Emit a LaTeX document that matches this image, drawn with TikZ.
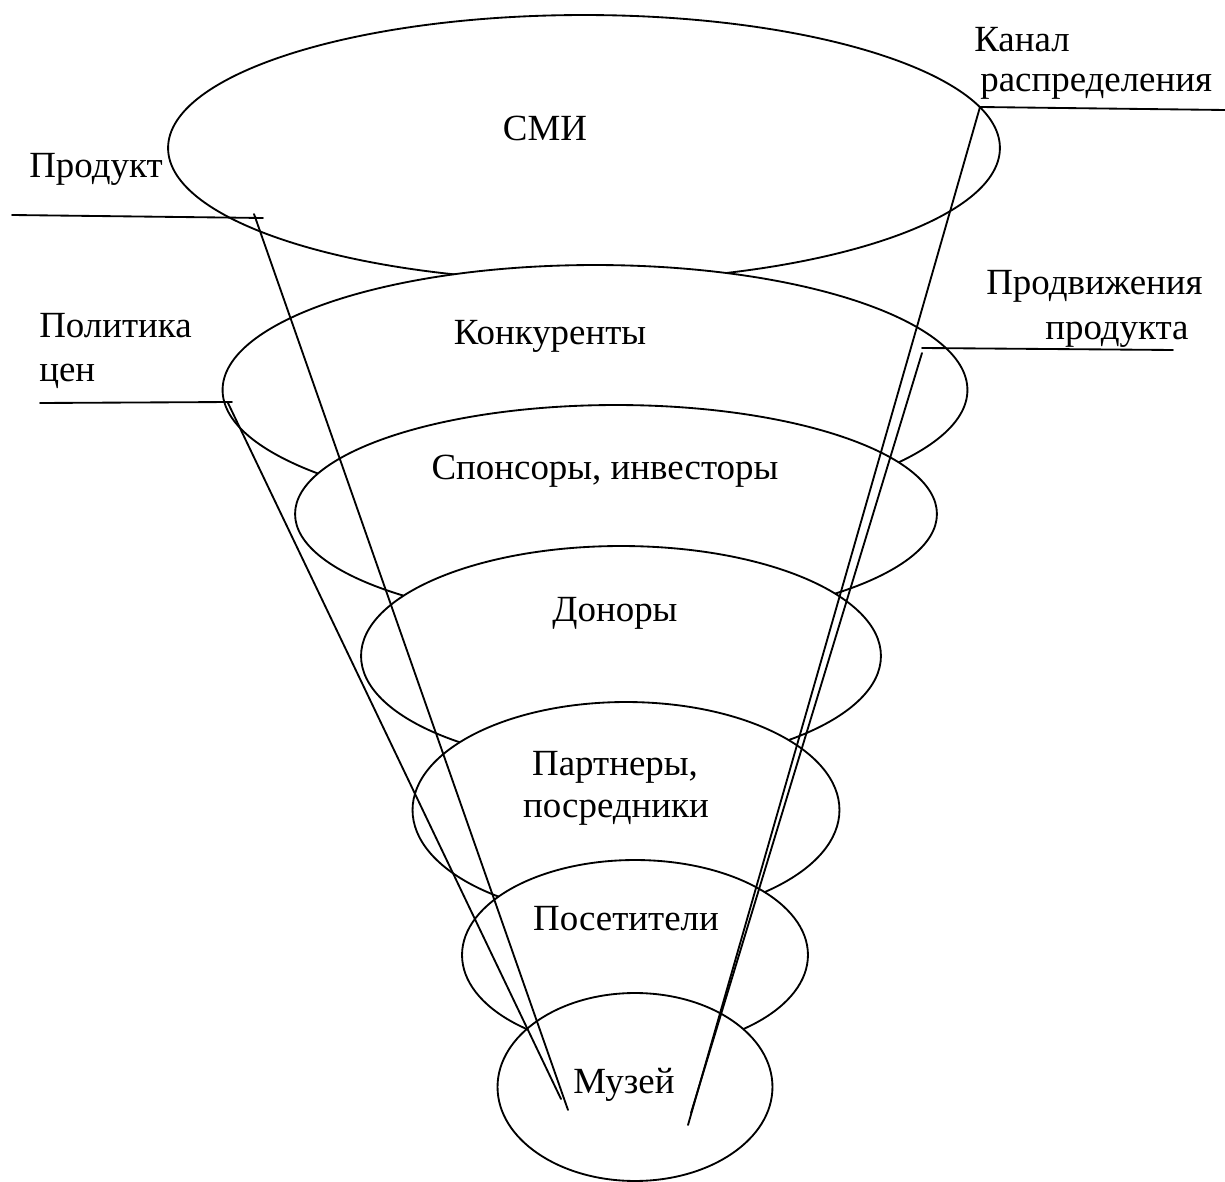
\documentclass[tikz,border=0pt]{standalone}
\usepackage{fontspec}
\setmainfont{Liberation Serif}
\usetikzlibrary{shapes.geometric}
\begin{document}
\begin{tikzpicture}[x=0.02cm,y=-0.02cm,
  ring/.style={ellipse,draw=black,fill=white,line width=1.05pt,inner sep=0pt},
  lbl/.style={font=\fontsize{21}{25}\selectfont,inner sep=0pt,anchor=base},
  lbll/.style={lbl,anchor=base west},
  lead/.style={line width=1.05pt,line cap=round}]
\useasboundingbox (0,0) rectangle (1225,1182);
% ellipses, top to bottom (lower ones drawn over upper ones)
\node[ring,minimum width=16.64cm,minimum height=5.32cm] (smi) at (584,148) {};
\node[ring,minimum width=14.9cm,minimum height=5.0cm] (konk) at (595,390) {};
\node[ring,minimum width=12.84cm,minimum height=4.36cm] (spon) at (616,514) {};
\node[ring,minimum width=10.4cm,minimum height=4.4cm] (donor) at (621,656) {};
\node[ring,minimum width=8.54cm,minimum height=4.32cm] (partn) at (626,810) {};
\node[ring,minimum width=6.92cm,minimum height=3.8cm] (poset) at (635,955) {};
\node[ring,minimum width=5.5cm,minimum height=3.76cm] (muzei) at (635,1087) {};
% texts inside
\node[lbl] (tsmi) at (545,141) {СМИ};
\node[lbl] (tkonk) at (550,345) {Конкуренты};
\node[lbl] (tspon) at (605,480) {Спонсоры, инвесторы};
\node[lbl] (tdonor) at (615,622) {Доноры};
\node[lbl] (tpartn1) at (615,775) {Партнеры,};
\node[lbl] (tpartn2) at (616,817) {посредники};
\node[lbl] (tposet) at (626,930) {Посетители};
\node[lbl] (tmuzei) at (624,1093) {Музей};
% outside labels
\node[lbll] (lprod) at (29,178) {Продукт};
\node[lbll] (lpol1) at (39,338) {Политика};
\node[lbll] (lpol2) at (39,382) {цен};
\node[lbll] (lkan1) at (974,52) {Канал};
\node[lbll] (lkan2) at (980,92) {распределения};
\node[lbll] (lprom1) at (986,295) {Продвижения};
\node[lbll] (lprom2) at (1045,340) {продукта};
% leader coordinates
\coordinate (pa) at (12,215);
\coordinate (pb) at (263,218);
\coordinate (pc) at (254,214);
\coordinate (pd) at (568,1110);
\coordinate (qa) at (40,403);
\coordinate (qb) at (232,402);
\coordinate (qc) at (228,403);
\coordinate (qd) at (561,1099);
\coordinate (ka) at (980,107);
\coordinate (kb) at (1225,110);
\coordinate (kd) at (688,1125);
\coordinate (ra) at (922,348);
\coordinate (rb) at (1173,350);
\coordinate (rc) at (922,353);
\coordinate (rd) at (691,1113);
\draw[lead] (pa) -- (pb);
\draw[lead] (pc) -- (pd);
\draw[lead] (qa) -- (qb);
\draw[lead] (qc) -- (qd);
\draw[lead] (ka) -- (kb);
\draw[lead] (ka) -- (kd);
\draw[lead] (ra) -- (rb);
\draw[lead] (rc) -- (rd);
\end{tikzpicture}
\end{document}
